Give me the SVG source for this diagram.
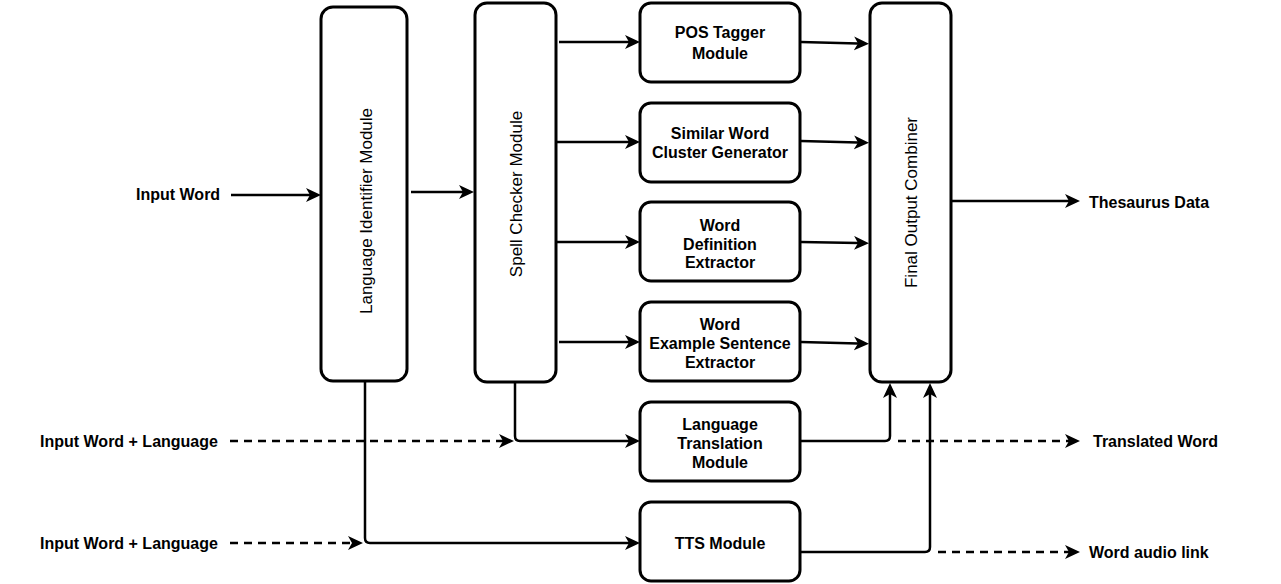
<svg xmlns="http://www.w3.org/2000/svg" width="1281" height="584" viewBox="0 0 1281 584">
<style>
.box{fill:#fff;stroke:#000;stroke-width:3}
.lbl{font-family:"Liberation Sans",Arial,sans-serif;font-weight:bold;font-size:16px;fill:#000}
.c{text-anchor:middle}
.rot{font-family:"Liberation Sans",Arial,sans-serif;font-size:17px;fill:#000;text-anchor:middle}
.ln{fill:none;stroke:#000;stroke-width:2.5;marker-end:url(#ah)}
.dash{stroke-dasharray:8 6}
</style>
<defs>
<marker id="ah" markerUnits="userSpaceOnUse" markerWidth="16" markerHeight="15" refX="4" refY="7" orient="auto">
<path d="M0,0 L15,7 L0,14 L4,7 z" fill="#000"/>
</marker>
</defs>
<g id="connectors">
<path class="ln" d="M231,195 H310"/>
<path class="ln" d="M411,192 H463"/>
<path class="ln" d="M559,42 H629"/>
<path class="ln" d="M556,142 H629"/>
<path class="ln" d="M556,242 H629"/>
<path class="ln" d="M559,342 H629"/>
<path class="ln" d="M801,42 L858,43.5"/>
<path class="ln" d="M801,141 L858,142.5"/>
<path class="ln" d="M801,242 L858,243"/>
<path class="ln" d="M801,342 L858,343.5"/>
<path class="ln" d="M951,201 H1069"/>
<path class="ln" d="M515,382 V436 Q515,441 520,441 H629"/>
<path class="ln dash" d="M230,441 H503"/>
<path class="ln" d="M365,381 V538 Q365,543 370,543 H629"/>
<path class="ln dash" d="M230,543 H352"/>
<path class="ln" d="M801,441 H885 Q890,441 890,436 V394"/>
<path class="ln dash" d="M898,441 H1069"/>
<path class="ln" d="M801,552 H925 Q930,552 930,547 V394"/>
<path class="ln dash" d="M938,552 H1069"/>
</g>
<g id="lang-id">
<rect class="box" x="321" y="7" width="86" height="374" rx="12"/>
<text class="rot" transform="translate(372,211) rotate(-90)">Language Identifier Module</text>
</g>
<g id="spell">
<rect class="box" x="475" y="3" width="81" height="379" rx="12"/>
<text class="rot" transform="translate(522,194) rotate(-90)">Spell Checker Module</text>
</g>
<g id="final">
<rect class="box" x="870" y="3" width="81" height="379" rx="12"/>
<text class="rot" transform="translate(917,202.5) rotate(-90)">Final Output Combiner</text>
</g>
<g id="pos">
<rect class="box" x="640" y="3" width="160" height="79" rx="11"/>
<text class="lbl c" x="720" y="38">POS Tagger</text>
<text class="lbl c" x="720" y="59">Module</text>
</g>
<g id="similar">
<rect class="box" x="640" y="103" width="160" height="79" rx="11"/>
<text class="lbl c" x="720" y="139">Similar Word</text>
<text class="lbl c" x="720" y="158">Cluster Generator</text>
</g>
<g id="definition">
<rect class="box" x="640" y="202" width="160" height="79" rx="11"/>
<text class="lbl c" x="720" y="231">Word</text>
<text class="lbl c" x="720" y="249.5">Definition</text>
<text class="lbl c" x="720" y="268">Extractor</text>
</g>
<g id="example">
<rect class="box" x="640" y="302" width="160" height="79" rx="11"/>
<text class="lbl c" x="720" y="329.5">Word</text>
<text class="lbl c" x="720" y="348.5">Example Sentence</text>
<text class="lbl c" x="720" y="367.5">Extractor</text>
</g>
<g id="translation">
<rect class="box" x="640" y="402" width="160" height="79" rx="11"/>
<text class="lbl c" x="720" y="430">Language</text>
<text class="lbl c" x="720" y="449">Translation</text>
<text class="lbl c" x="720" y="468">Module</text>
</g>
<g id="tts">
<rect class="box" x="640" y="502" width="160" height="79" rx="11"/>
<text class="lbl c" x="720" y="549">TTS Module</text>
</g>
<g id="labels">
<text class="lbl" x="136" y="199.5">Input Word</text>
<text class="lbl" x="40" y="447">Input Word + Language</text>
<text class="lbl" x="40" y="548.5">Input Word + Language</text>
<text class="lbl" x="1089" y="207.5">Thesaurus Data</text>
<text class="lbl" x="1093" y="446.5">Translated Word</text>
<text class="lbl" x="1089" y="558">Word audio link</text>
</g>
</svg>
